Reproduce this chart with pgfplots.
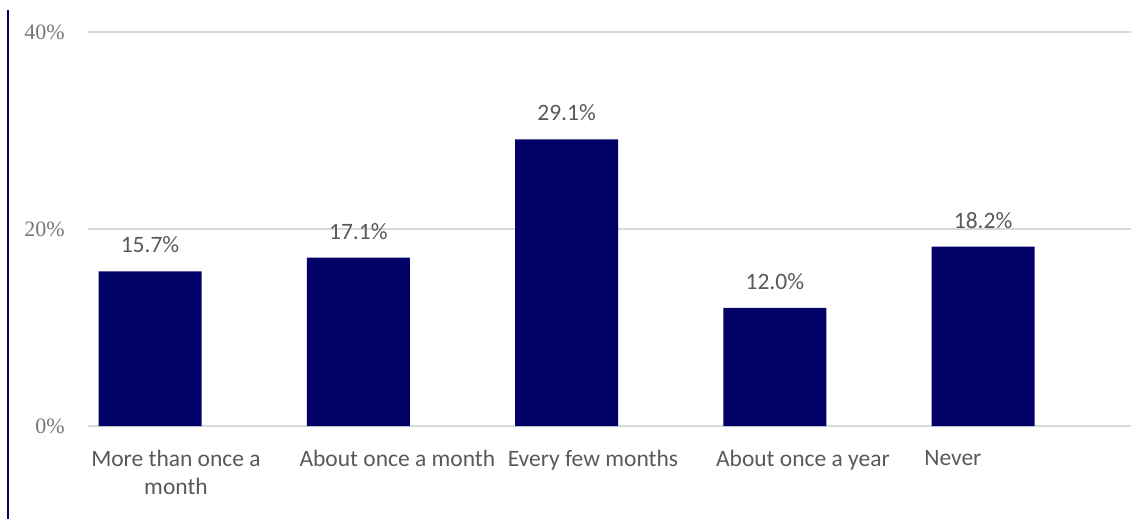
\documentclass[border=0pt]{standalone}
\usepackage{fontspec}
\setmainfont{Carlito}
\newfontfamily\tickfont{Liberation Serif}
\usepackage{pgfplots}
\pgfplotsset{compat=1.18}
\definecolor{barnavy}{RGB}{0,0,102}
\definecolor{lblgray}{RGB}{89,89,89}
\definecolor{tickgray}{RGB}{118,118,118}
\definecolor{gridgray}{RGB}{217,217,217}
\begin{document}
\begin{tikzpicture}[x=1pt,y=1pt]
\useasboundingbox (0,0) rectangle (1147,519);
\draw[barnavy, line width=1.5pt] (8,0) -- (8,509);
\begin{axis}[
  at={(88pt,93pt)}, anchor=south west,
  scale only axis, width=1043pt, height=394pt,
  xmin=-0.298, xmax=4.71, ymin=0, ymax=40,
  axis line style={draw=none},
  tick style={draw=none},
  ytick={0,20,40},
  yticklabels={0\%,20\%,40\%},
  yticklabel style={font=\tickfont\fontsize{22}{26}\selectfont, text=tickgray, inner sep=0pt, anchor=east, xshift=-23pt},
  ymajorgrids,
  grid style={draw=gridgray, line width=1.2pt},
  xtick={0,1,2,3,4},
  xticklabels={{More than once a\\month},{About once a month},{Every few months},{About once a year},{Never}},
  xticklabel style={font=\fontsize{23.5}{28}\selectfont, text=lblgray, align=center, anchor=north west, inner sep=0pt, xshift=-59pt, yshift=-20pt},
  ybar, bar width=103pt,
  nodes near coords={\pgfmathprintnumber[fixed,fixed zerofill,precision=1,assume math mode=true]{\pgfplotspointmeta}\%},
  every node near coord/.append style={font=\fontsize{23.5}{28}\selectfont, text=lblgray, inner sep=0pt, anchor=south, yshift=18pt},
  clip=false,
]
\addplot[fill=barnavy, draw=none] coordinates {(0,15.7) (1,17.1) (2,29.1) (3,12.0) (4,18.2)};
\end{axis}
\end{tikzpicture}
\end{document}
